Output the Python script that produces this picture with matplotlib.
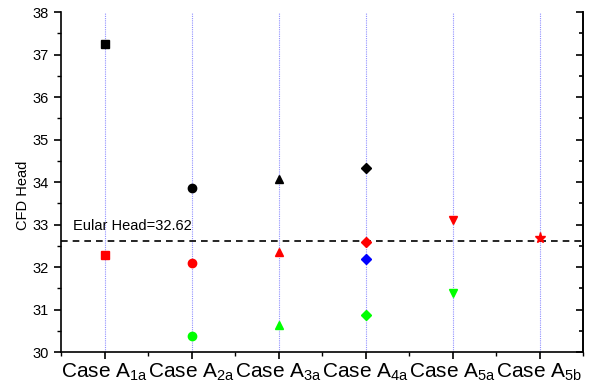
import numpy as np
import matplotlib.pyplot as plt
from matplotlib.ticker import MultipleLocator

plt.rcParams['font.family'] = ['Liberation Sans', 'DejaVu Sans']
plt.rcParams['mathtext.fontset'] = 'custom'
plt.rcParams['mathtext.rm'] = 'Liberation Sans'

# CFD head for each case (None where a case has no such run)
case_subs = ['1a', '2a', '3a', '4a', '5a', '5b']
case_markers = ['s', 'o', '^', 'D', 'v', '*']
black_head = [37.26, 33.86, 34.07, 34.34, None, None]
red_head = [32.28, 32.09, 32.35, 32.59, 33.11, 32.68]
green_head = [None, 30.37, 30.64, 30.86, 31.39, None]
blue_head = [None, None, None, 32.20, None, None]
EULAR_HEAD = 32.62

series = [(black_head, 'black'), (red_head, '#ff0000'),
          (green_head, '#00ff00'), (blue_head, '#0000ff')]
marker_size = {'s': 5.5, 'o': 6, '^': 6, 'D': 5, 'v': 6, '*': 8}

fig = plt.figure(figsize=(5.93, 3.92), dpi=100)
ax = fig.add_axes([0.1029, 0.102, 0.8803, 0.867])

x = np.arange(1, len(case_subs) + 1)
for xi in x:
    ax.axvline(xi, color='#9090ff', lw=0.8, ls=(0, (1, 1)), zorder=0)

for values, color in series:
    for xi, v, m in zip(x, values, case_markers):
        if v is None:
            continue
        ax.plot(xi, v, marker=m, color=color, ms=marker_size[m], ls='none', zorder=3)

ax.axhline(EULAR_HEAD, color='black', lw=1.2, ls=(0, (4, 3)), zorder=2)
ax.text(0.64, EULAR_HEAD + 0.17, f'Eular Head={EULAR_HEAD}', fontsize=10.5,
        ha='left', va='bottom')

ax.set_xlim(0.5, 6.5)
ax.set_ylim(30, 38)
ax.set_xticks(x)
ax.set_xticklabels([f'Case A$_{{\\mathregular{{{s}}}}}$' for s in case_subs],
                   fontsize=15)
ax.xaxis.set_minor_locator(MultipleLocator(0.5))
ax.yaxis.set_major_locator(MultipleLocator(1))
ax.yaxis.set_minor_locator(MultipleLocator(0.5))
ax.set_ylabel('CFD Head', fontsize=10.5)
ax.yaxis.set_label_coords(-0.06, 0.46)

ax.spines['top'].set_visible(False)
for s in ['left', 'bottom', 'right']:
    ax.spines[s].set_linewidth(1.2)
ax.tick_params(axis='y', which='both', left=True, right=False, labelsize=10.5)
ax.tick_params(axis='y', which='major', length=5, width=1.2)
ax.tick_params(axis='y', which='minor', length=3, width=1.0)
ax.tick_params(axis='x', which='major', length=5, width=1.2, pad=2)
ax.tick_params(axis='x', which='minor', length=3, width=1.0)

# right-hand spine carries inward ticks only
sec = ax.secondary_yaxis('right')
sec.yaxis.set_major_locator(MultipleLocator(1))
sec.yaxis.set_minor_locator(MultipleLocator(0.5))
sec.tick_params(which='both', direction='in', labelright=False, width=1.2)
sec.tick_params(which='major', length=5)
sec.tick_params(which='minor', length=3)
sec.spines['right'].set_linewidth(1.2)

fig.savefig('out.png', dpi=100)
